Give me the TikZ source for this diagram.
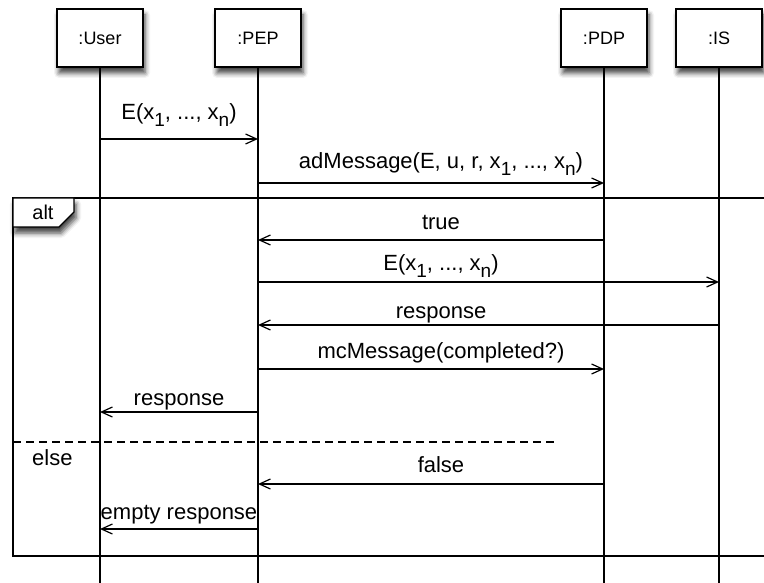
\documentclass[tikz,border=0pt]{standalone}
\usepackage{fontspec}
\setmainfont{Liberation Sans}
\usetikzlibrary{arrows.meta,shadows.blur}
% lowered, slightly smaller index for message arguments
\newcommand\lsub[1]{\raisebox{-7pt}{\fontsize{19}{19}\selectfont #1}}

\begin{document}
\begin{tikzpicture}[x=1pt,y=-1pt,
  softshadow/.style={blur shadow={shadow xshift=2pt, shadow yshift=-6pt,
      shadow blur radius=5pt, shadow opacity=75}},
  lifebox/.style={draw, line width=1.3pt, fill=white, minimum width=86pt,
      minimum height=58pt, inner sep=0pt, font=\fontsize{18}{18}\selectfont, softshadow},
  lifeline/.style={line width=1.3pt},
  msg/.style={line width=1.2pt, -{Straight Barb[length=11pt,width=10pt,line width=1.2pt]}},
  lbl/.style={font=\fontsize{22}{22}\selectfont, inner sep=0pt, anchor=base},
  framestyle/.style={line width=1.3pt},
  divider/.style={line width=1.2pt, dash pattern=on 8pt off 5pt},
]
\useasboundingbox (0,0) rectangle (764,583);

% participants
\node[lifebox] (user) at (100,38) {:User};
\node[lifebox] (pep)  at (258,38) {:PEP};
\node[lifebox] (pdp)  at (604,38) {:PDP};
\node[lifebox] (is)   at (719,38) {:IS};

% reference rows
\coordinate (bot) at (0,583);
\coordinate (r1) at (0,139);
\coordinate (r2) at (0,183);
\coordinate (r3) at (0,240);
\coordinate (r4) at (0,282);
\coordinate (r5) at (0,325);
\coordinate (r6) at (0,369);
\coordinate (r7) at (0,412);
\coordinate (r8) at (0,484);
\coordinate (r9) at (0,529);

% lifelines
\foreach \p in {user,pep,pdp,is}
  \draw[lifeline] (\p.south) -- (\p.south |- bot);

% combined fragment frame
\coordinate (ftl) at (13,198);
\coordinate (ftr) at (766,198);
\coordinate (fbl) at (13,556);
\coordinate (fbr) at (766,556);
\draw[framestyle] (ftr) -- (ftl) -- (fbl) -- (fbr);
\coordinate (dl) at (13,442);
\coordinate (dr) at (558,442);
\draw[divider] (dl) -- (dr);

% fragment tag
\draw[framestyle, fill=white, softshadow]
  (13,198) -- (74,198) -- (74,212) -- (59,227) -- (13,227) -- cycle;
\node[font=\fontsize{20}{20}\selectfont, inner sep=0pt, anchor=base] (alt) at (43,220) {alt};
\node[lbl, anchor=base west] (else) at (32,465) {else};

% messages
\draw[msg] (user |- r1) -- (pep |- r1);
\node[lbl] (l1) at (179,120) {E(x\lsub{1}, ..., x\lsub{n})};

\draw[msg] (pep |- r2) -- (pdp |- r2);
\node[lbl] (l2) at (441,169) {adMessage(E, u, r, x\lsub{1}, ..., x\lsub{n})};

\draw[msg] (pdp |- r3) -- (pep |- r3);
\node[lbl] (l3) at (441,230) {true};

\draw[msg] (pep |- r4) -- (is |- r4);
\node[lbl] (l4) at (441,270) {E(x\lsub{1}, ..., x\lsub{n})};

\draw[msg] (is |- r5) -- (pep |- r5);
\node[lbl] (l5) at (441,318) {response};

\draw[msg] (pep |- r6) -- (pdp |- r6);
\node[lbl] (l6) at (441,358) {mcMessage(completed?)};

\draw[msg] (pep |- r7) -- (user |- r7);
\node[lbl] (l7) at (179,405) {response};

\draw[msg] (pdp |- r8) -- (pep |- r8);
\node[lbl] (l8) at (441,472) {false};

\draw[msg] (pep |- r9) -- (user |- r9);
\node[lbl] (l9) at (179,519) {empty response};
\end{tikzpicture}
\end{document}
